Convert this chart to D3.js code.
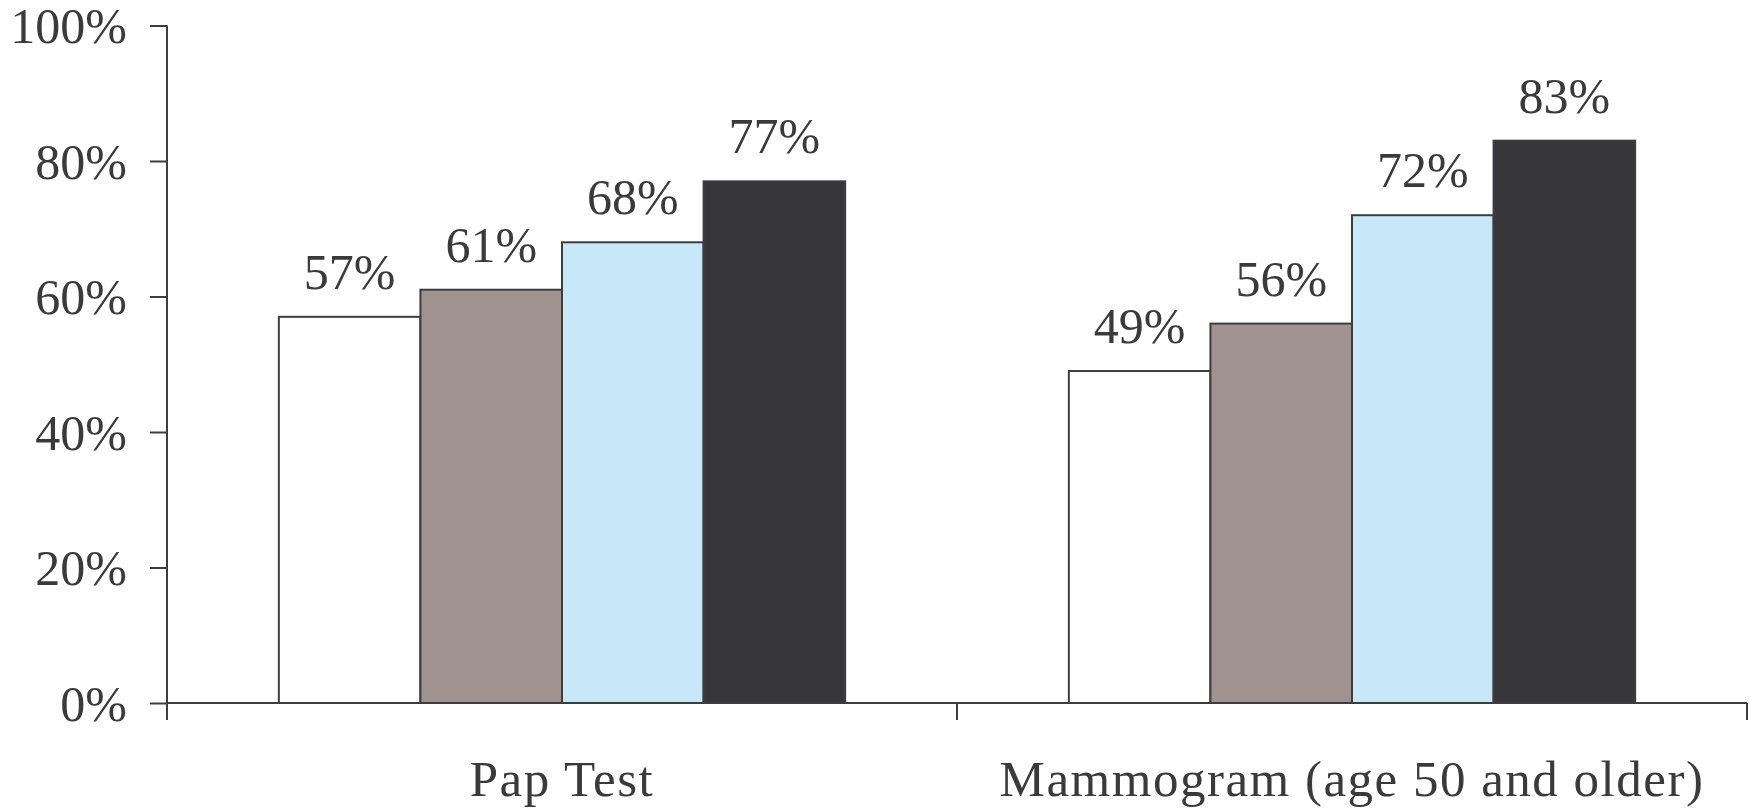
<!DOCTYPE html>
<html>
<head>
<meta charset="utf-8">
<script src="https://d3js.org/d3.v7.min.js"></script>
<style>
  body { margin: 0; background: #fff; }
  svg { display: block; }
</style>
</head>
<body>
<svg id="chart" width="1750" height="810"></svg>
<script>
// screening rates by group, two tests
var categories = ["Pap Test", "Mammogram (age 50 and older)"];
var groups = ["g1", "g2", "g3", "g4"];
var papValues = [57, 61, 68, 77];
var mammoValues = [49, 56, 72, 83];
var yTicks = [0, 20, 40, 60, 80, 100];
var colors = ["#ffffff", "#a0928e", "#c6e8f8", "#37363b"];

var seriesByCat = [papValues, mammoValues];

let svg = d3.select("#chart");
let cWidth = 1750, cHeight = 810;
let margin = {top: 25.5, right: 3, bottom: 107, left: 167};
let ink = "#3d3c40";
let txt = "#3a393d";
let font = "Liberation Serif";
let fontSize = 50;

let xScale = d3.scaleBand().domain(categories)
  .range([margin.left, cWidth - margin.right]).paddingInner(0).paddingOuter(0);
//bars take about 72% of each band, centred
let inner = d3.scaleBand().domain(groups)
  .range([0, xScale.bandwidth()]).paddingInner(0).paddingOuter(0.79);
let yScale = d3.scaleLinear().domain([0, 100]).range([cHeight - margin.bottom, margin.top]);
let y0 = yScale(0);

//bars
categories.forEach(function(cat, ci){
  let g = svg.append("g").attr("transform", "translate(" + xScale(cat) + ",0)");
  let vals = seriesByCat[ci];
  g.selectAll("rect").data(vals).enter().append("rect")
    .attr("x", (d, i) => inner(groups[i]))
    .attr("y", d => yScale(d))
    .attr("width", inner.bandwidth())
    .attr("height", d => y0 - yScale(d))
    .attr("fill", (d, i) => colors[i])
    .attr("stroke", ink)
    .attr("stroke-width", 2);

  g.selectAll("text.val").data(vals).enter().append("text")
    .classed("val", true)
    .attr("x", (d, i) => inner(groups[i]) + inner.bandwidth() / 2)
    .attr("y", d => yScale(d) - 28)
    .attr("text-anchor", "middle")
    .attr("font-family", font)
    .attr("font-size", fontSize)
    .attr("fill", txt)
    .text(d => d + "%");
});

//y axis
let yAxis = d3.axisLeft(yScale).tickValues(yTicks).tickSize(17).tickPadding(23)
  .tickFormat(d => d + "%");
let yg = svg.append("g")
  .attr("transform", "translate(" + margin.left + ",0)")
  .call(yAxis)
  .attr("font-family", font)
  .attr("font-size", fontSize);
yg.select(".domain").remove();
yg.selectAll("line").attr("stroke", ink).attr("stroke-width", 2);
yg.selectAll("text").attr("fill", txt).attr("dy", "0.34em");

svg.append("line")
  .attr("x1", margin.left).attr("x2", margin.left)
  .attr("y1", margin.top).attr("y2", y0 + 17)
  .attr("stroke", ink).attr("stroke-width", 2);

//x axis, ticks at the band boundaries
svg.append("line")
  .attr("x1", margin.left).attr("x2", cWidth - margin.right)
  .attr("y1", y0).attr("y2", y0)
  .attr("stroke", ink).attr("stroke-width", 2);

let bounds = categories.map(c => xScale(c)).concat([xScale.range()[1]]).slice(1);
svg.selectAll("line.xtick").data(bounds).enter().append("line")
  .classed("xtick", true)
  .attr("x1", d => d).attr("x2", d => d)
  .attr("y1", y0).attr("y2", y0 + 17)
  .attr("stroke", ink).attr("stroke-width", 2);

svg.selectAll("text.cat").data(categories).enter().append("text")
  .classed("cat", true)
  .attr("x", d => xScale(d) + xScale.bandwidth() / 2)
  .attr("y", 796)
  .attr("text-anchor", "middle")
  .attr("font-family", font)
  .attr("font-size", 51)
  .attr("letter-spacing", 1.5)
  .attr("fill", txt)
  .text(d => d);
</script>
</body>
</html>
